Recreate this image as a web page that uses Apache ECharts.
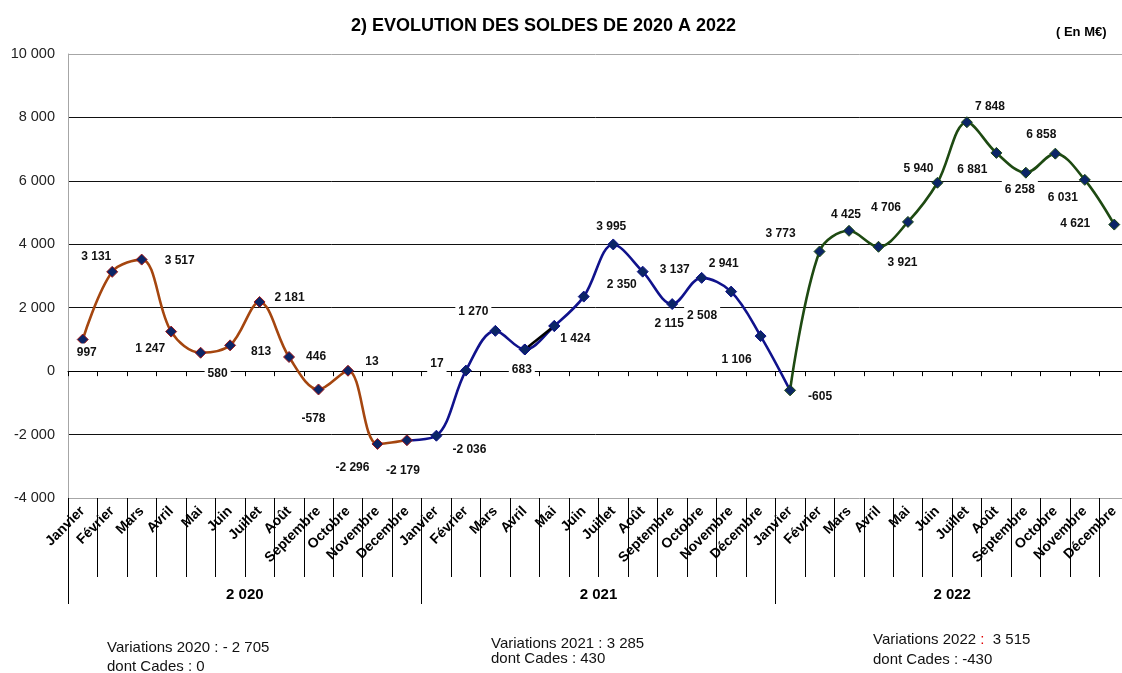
<!DOCTYPE html>
<html>
<head>
<meta charset="utf-8">
<title>Evolution des soldes 2020 - 2022</title>
<script src="https://cdn.jsdelivr.net/npm/echarts@6/dist/echarts.min.js"></script>
<style>
html, body { margin: 0; padding: 0; background: #fff; }
#chart { width: 1122px; height: 673px; }
</style>
</head>
<body>
<div id="chart"></div>
<script>
// mois (l'axe de 2020 a "Decembre" sans accent)
var mois2020 = ['Janvier', 'Février', 'Mars', 'Avril', 'Mai', 'Juin', 'Juillet', 'Août', 'Septembre', 'Octobre', 'Novembre', 'Decembre'];
var mois = ['Janvier', 'Février', 'Mars', 'Avril', 'Mai', 'Juin', 'Juillet', 'Août', 'Septembre', 'Octobre', 'Novembre', 'Décembre'];
var annees = ['2 020', '2 021', '2 022'];

// soldes mensuels (M€)
var soldes2020 = [997, 3131, 3517, 1247, 580, 813, 2181, 446, -578, 13, -2296, -2179];
var soldes2021 = [-2036, 17, 1270, 683, 1424, 2350, 3995, 3137, 2115, 2941, 2508, 1106];
var soldes2022 = [-605, 3773, 4425, 3921, 4706, 5940, 7848, 6881, 6258, 6858, 6031, 4621];

// textes du bas
var variations = ['- 2 705', '3 285', '3 515'];
var cades = ['0', '430', '-430'];

// décalage des étiquettes par rapport au point
var decalages2020 = [[4, 13], [-16, -15], [38, 1], [-21, 17], [17, 21], [31, 6], [30, -4], [27, 0], [-5, 29], [24, -9], [-25, 24], [-4, 30]];
var decalages2021 = [[33, 14], [-29, -7], [-22, -19], [-3, 20], [21, 13], [38, -12], [-2, -18], [32, -2], [-3, 20], [22, -14], [-29, 24], [-24, 24]];
var decalages2022 = [[30, 6], [-39, -18], [-3, -16], [24, 16], [-22, -14], [-19, -14], [23, -16], [-24, 17], [-6, 17], [-14, -19], [-22, 18], [-39, -1]];

var police = 'Arial, "Liberation Sans", sans-serif';
var categories = mois2020.concat(mois, mois);

function fmt(v) {
	var s = String(Math.abs(v)).replace(/\B(?=(\d{3})+(?!\d))/g, ' ');
	return (v < 0 ? '-' : '') + s;
}

function vide() {
	var d = [];
	for (var i = 0; i < categories.length; i++) {
		d.push('-');
	}
	return d;
}

// construit les points d'une année, avec éventuellement le point d'attache
function points(valeurs, debut, decalages, avant, apres) {
	var d = vide();
	valeurs.forEach(function (v, i) {
		d[debut + i] = { value: v, label: { offset: decalages[i] } };
	});
	if (avant !== undefined) {
		d[debut - 1] = { value: avant, symbol: 'none', label: { show: false } };
	}
	if (apres !== undefined) {
		d[debut + valeurs.length] = { value: apres, symbol: 'none', label: { show: false } };
	}
	return d;
}

function ligne(nom, couleur, bord, data, z) {
	return {
		name: nom,
		type: 'line',
		data: data,
		smooth: 0.35,
		z: z,
		symbol: 'diamond',
		symbolSize: 11,
		lineStyle: { color: couleur, width: 2.6 },
		itemStyle: { color: '#0b2566', borderColor: bord, borderWidth: 1 },
		label: {
			show: true,
			position: 'inside',
			formatter: function (p) { return fmt(p.value); },
			fontSize: 12,
			fontWeight: 'bold',
			fontFamily: police,
			color: '#111',
			backgroundColor: '#fff',
			padding: [3, 3]
		},
		emphasis: { disabled: true }
	};
}

// petit segment noir entre avril et mai 2021
var segment = vide();
segment[15] = { value: soldes2021[3], label: { show: false } };
segment[16] = { value: soldes2021[4], label: { show: false } };

var myChart = echarts.init(document.getElementById('chart'));

var option = {
	animation: false,
	title: {
		text: '2) EVOLUTION DES SOLDES DE 2020 A 2022',
		left: 351,
		top: 17,
		padding: 0,
		textStyle: { fontSize: 18, fontWeight: 'bold', fontFamily: police, color: '#000' }
	},
	grid: {
		left: 68,
		top: 54,
		width: 1061,
		height: 444,
		outerBoundsMode: 'none'
	},
	xAxis: [
		{
			// axe du zéro
			type: 'category',
			data: categories,
			position: 'bottom',
			axisLine: { onZero: true, lineStyle: { color: '#000', width: 1 } },
			axisTick: { show: true, interval: 0, length: 5, lineStyle: { color: '#000' } },
			axisLabel: { show: false },
			splitLine: { show: false }
		},
		{
			// mois
			type: 'category',
			data: categories,
			position: 'bottom',
			axisLine: { show: false, onZero: false },
			axisTick: { show: true, interval: 0, length: 79, lineStyle: { color: '#000' } },
			axisLabel: {
				interval: 0, rotate: 45, margin: 11,
				fontSize: 14, fontWeight: 'bold', fontFamily: police, color: '#000'
			},
			splitLine: { show: false }
		},
		{
			// années
			type: 'category',
			data: annees,
			position: 'bottom',
			axisLine: { show: false, onZero: false },
			axisTick: { show: true, interval: 0, length: 106, lineStyle: { color: '#000' } },
			axisLabel: {
				interval: 0, margin: 89,
				fontSize: 15, fontWeight: 'bold', fontFamily: police, color: '#000'
			},
			splitLine: { show: false }
		}
	],
	yAxis: {
		type: 'value',
		min: -4000,
		max: 10000,
		interval: 2000,
		axisLine: { show: true, lineStyle: { color: '#a6a6a6' } },
		axisTick: { show: false },
		axisLabel: {
			margin: 13,
			fontSize: 14.5,
			fontFamily: police,
			color: '#222',
			formatter: fmt
		},
		splitLine: {
			lineStyle: {
				color: ['#a6a6a6', '#111', '#111', '#111', '#111', '#111', '#111', '#a6a6a6'],
				width: 1
			}
		}
	},
	series: [
		ligne('2020', '#a5460f', '#a01818', points(soldes2020, 0, decalages2020), 4),
		ligne('2021', '#10128c', '#10128c', points(soldes2021, 12, decalages2021, soldes2020[11], soldes2022[0]), 3),
		ligne('2022', '#1e4a12', '#1e4a12', points(soldes2022, 24, decalages2022), 5),
		{
			name: 'segment',
			type: 'line',
			data: segment,
			z: 3,
			symbol: 'diamond',
			symbolSize: 11,
			lineStyle: { color: '#000', width: 2.6 },
			itemStyle: { color: '#0b2566', borderColor: '#10128c', borderWidth: 1 },
			emphasis: { disabled: true }
		}
	],
	graphic: [
		{
			type: 'text', x: 1056, y: 32,
			style: { text: '( En M€)', font: 'bold 13px ' + police, fill: '#000', align: 'left', verticalAlign: 'middle' }
		},
		{
			type: 'text', x: 107, y: 648,
			style: { text: 'Variations 2020 : ' + variations[0], font: '15px ' + police, fill: '#111', verticalAlign: 'middle' }
		},
		{
			type: 'text', x: 107, y: 667,
			style: { text: 'dont Cades : ' + cades[0], font: '15px ' + police, fill: '#111', verticalAlign: 'middle' }
		},
		{
			type: 'text', x: 491, y: 644,
			style: { text: 'Variations 2021 : ' + variations[1], font: '15px ' + police, fill: '#111', verticalAlign: 'middle' }
		},
		{
			type: 'text', x: 491, y: 659,
			style: { text: 'dont Cades : ' + cades[1], font: '15px ' + police, fill: '#111', verticalAlign: 'middle' }
		},
		{
			type: 'text', x: 873, y: 640,
			style: {
				text: 'Variations 2022 {r|:}  ' + variations[2],
				font: '15px ' + police, fill: '#111', verticalAlign: 'middle',
				rich: { r: { fill: '#e00000', font: '15px ' + police } }
			}
		},
		{
			type: 'text', x: 873, y: 660,
			style: { text: 'dont Cades : ' + cades[2], font: '15px ' + police, fill: '#111', verticalAlign: 'middle' }
		}
	]
};

myChart.setOption(option);
</script>
</body>
</html>
